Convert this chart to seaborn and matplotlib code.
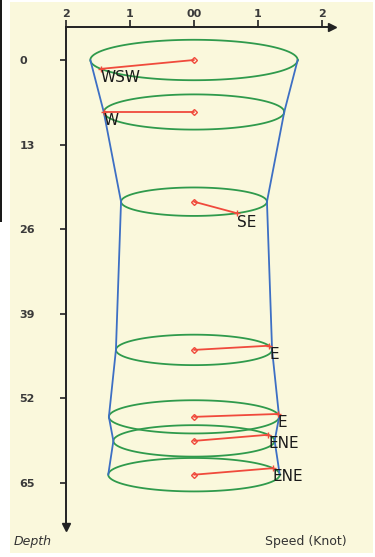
import numpy as np
import pandas as pd
import seaborn as sns
import matplotlib.pyplot as plt
from matplotlib.patches import Rectangle

# current profile: depth, speed (knots), direction (deg, towards), compass label
depth = [0.0, 8.0, 21.8, 44.6, 54.9, 58.6, 63.8]
speed = [1.62, 1.41, 1.14, 1.22, 1.33, 1.26, 1.34]
direction = [244, 270, 144, 74, 80, 67, 67]
compass = ["WSW", "W", "SE", "E", "E", "ENE", "ENE"]

x_ticks = [-2, -1, 0, 1, 2]
x_ticklabels = ["2", "1", "00", "1", "2"]
y_ticks = [0, 13, 26, 39, 52, 65]

W, H = 375, 557
flat = 1.92  # vertical half-size of ellipse (depth units per knot)

sns.set_style("white")
fig = plt.figure(figsize=(W / 100, H / 100), dpi=100, facecolor="white")

# cream panel + thin dark strip on the left
fig.patches.append(Rectangle((10 / W, 4 / H), 363 / W, 551 / H, transform=fig.transFigure,
                             facecolor="#faf8dc", edgecolor="none", zorder=-2))
fig.patches.append(Rectangle((0, 1 - 222 / H), 1.5 / W, 222 / H, transform=fig.transFigure,
                             facecolor="#1a1a1a", edgecolor="none", zorder=-2))

ax = fig.add_axes([66 / W, 1 - 527 / H, (332 - 66) / W, 500 / H])
ax.set_facecolor("none")
ax.set_xlim(-2, (332 - 194) / 64)
ax.set_ylim((527 - 60) / 6.5, (27 - 60) / 6.5)

# ellipses
rows = []
t = np.linspace(0, 2 * np.pi, 121)
for i, (d, s) in enumerate(zip(depth, speed)):
    for tt in t:
        rows.append({"id": i, "x": s * np.cos(tt), "y": d + s * flat * np.sin(tt)})
ell = pd.DataFrame(rows)
sns.lineplot(data=ell, x="x", y="y", units="id", estimator=None, sort=False,
             color="#2f9a4c", lw=1.3, ax=ax, legend=False)

# envelope
env = pd.DataFrame({"depth": depth, "speed": speed})
env["left"] = -env["speed"]
sns.lineplot(data=env, x="left", y="depth", sort=False, color="#3d6fc4", lw=1.3, ax=ax)
sns.lineplot(data=env, x="speed", y="depth", sort=False, color="#3d6fc4", lw=1.3, ax=ax)

# direction vectors
for d, s, a, lab in zip(depth, speed, direction, compass):
    r = np.deg2rad(a)
    tx = s * np.sin(r)
    ty = d - s * flat * np.cos(r)
    ax.plot([0, tx], [d, ty], color="#f04a3c", lw=1.3, zorder=4)
    ax.plot([0], [d], marker="D", ms=3, mew=1.0, mfc="none", color="#f04a3c", zorder=5)
    ax.plot([tx], [ty], marker="+", ms=4, mew=1.0, color="#f04a3c", zorder=5)
    ax.text(tx, ty + 0.2, lab, ha="left", va="top", fontsize=11, color="#1a1a1a", zorder=6)

# axes styling
for side in ["bottom", "right"]:
    ax.spines[side].set_visible(False)
for side in ["top", "left"]:
    ax.spines[side].set_color("#222222")
    ax.spines[side].set_linewidth(1.4)
ax.xaxis.tick_top()
ax.set_xticks(x_ticks)
ax.set_xticklabels(x_ticklabels)
ax.set_yticks(y_ticks)
ax.set_yticklabels([str(v) for v in y_ticks])
ax.tick_params(axis="x", direction="out", length=5, width=1.2, color="#222222",
               labelsize=8, labelcolor="#3a3a3a", pad=1, top=True, bottom=False)
ax.tick_params(axis="y", direction="out", length=4.5, width=1.2, color="#222222",
               labelsize=8, labelcolor="#3a3a3a", pad=29, left=True)
for lbl in ax.get_yticklabels() + ax.get_xticklabels():
    lbl.set_fontweight("bold")
for lbl in ax.get_yticklabels():
    lbl.set_ha("left")
ax.set_xlabel("")
ax.set_ylabel("")

ax.plot([1], [1], marker=">", ms=5.5, color="#222222", transform=ax.transAxes, clip_on=False)
ax.plot([0], [0], marker="v", ms=5.5, color="#222222", transform=ax.transAxes, clip_on=False)

fig.text(14 / W, 1 - 541 / H, "Depth", fontsize=9, style="italic", color="#333333",
         ha="left", va="center")
fig.text(265 / W, 1 - 541 / H, "Speed (Knot)", fontsize=9, color="#333333",
         ha="left", va="center")

fig.savefig("out.png", dpi=100, facecolor="white")
